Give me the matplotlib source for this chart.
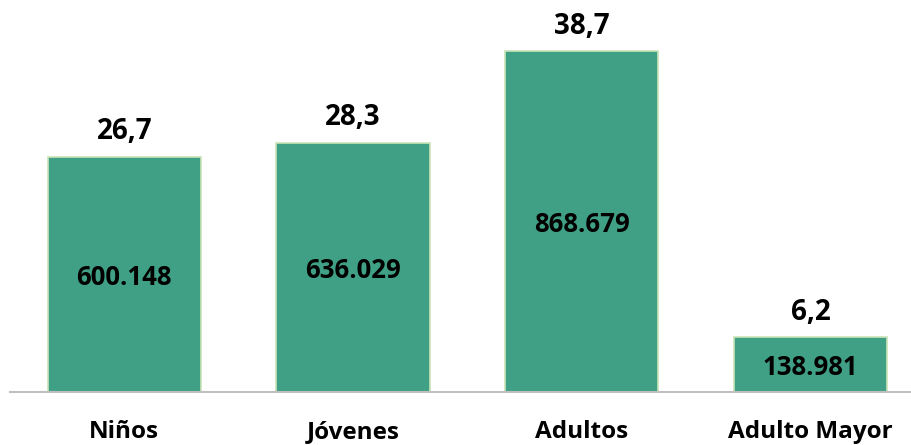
import matplotlib
matplotlib.use("Agg")
import matplotlib.pyplot as plt

categories = ["Niños", "Jóvenes", "Adultos", "Adulto Mayor"]
percentages = [26.7, 28.3, 38.7, 6.2]
counts = ["600.148", "636.029", "868.679", "138.981"]
pct_labels = ["26,7", "28,3", "38,7", "6,2"]

plt.rcParams['font.family'] = ['Open Sans', 'DejaVu Sans']

W, H = 912, 445
fig = plt.figure(figsize=(W / 100, H / 100), dpi=100)
ax_left, ax_right = 10, 912
base_y = 392
ax = fig.add_axes([ax_left / W, (H - base_y) / H, (ax_right - ax_left) / W, (base_y - 4) / H])

spacing = 228.7
x_left = -0.5
x_right = x_left + (ax_right - ax_left) / spacing
ax.set_xlim(x_left, x_right)
px_per_unit = 8.81
ax.set_ylim(0, (base_y - 4) / px_per_unit)

xs = list(range(len(categories)))
bars = ax.bar(xs, percentages, width=0.67, color='#40A086',
              edgecolor='#C9E4B8', linewidth=1.2)

for b, p, c in zip(bars, pct_labels, counts):
    cx = b.get_x() + b.get_width() / 2
    ax.annotate(p, (cx, b.get_height()), xytext=(0, 7.5), textcoords='offset points',
                ha='center', va='bottom', fontsize=20, fontweight='bold', color='black')
    ax.annotate(c, (cx, b.get_height() / 2), xytext=(0, -2), textcoords='offset points',
                ha='center', va='center', fontsize=18.5, fontweight='bold', color='black')

for s in ['top', 'right', 'left']:
    ax.spines[s].set_visible(False)
ax.spines['bottom'].set_color('#BFBFBF')
ax.spines['bottom'].set_linewidth(1.5)
ax.set_yticks([])
ax.set_xticks(xs)
ax.set_xticklabels(categories, fontsize=17.5, fontweight='bold')
ax.tick_params(axis='x', length=0, pad=20)

fig.savefig("out.png", dpi=100)
